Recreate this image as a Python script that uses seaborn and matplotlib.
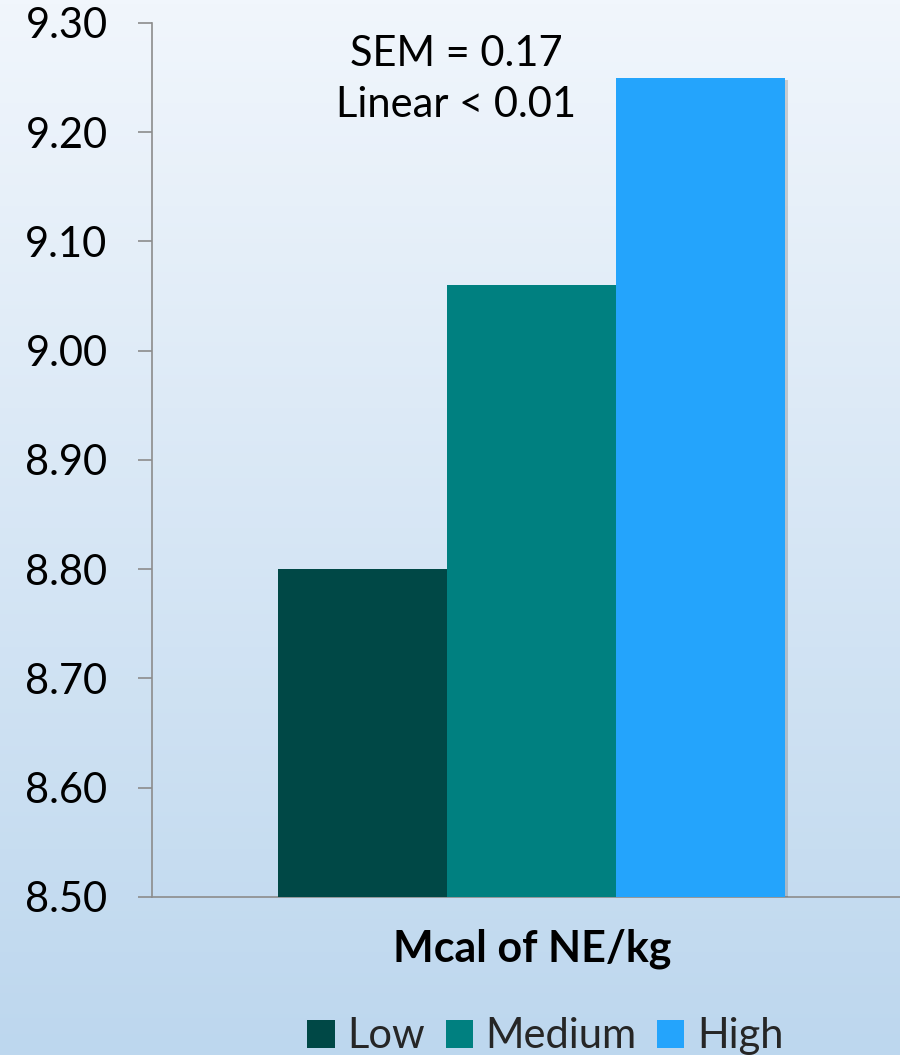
import numpy as np
import pandas as pd
import matplotlib
matplotlib.use("Agg")
import matplotlib.pyplot as plt
import matplotlib.patheffects as pe
from matplotlib.patches import Patch
from matplotlib.colors import LinearSegmentedColormap
import seaborn as sns

# Energy level groups and their response values
category = ["Mcal of NE/kg"]
levels = ["Low", "Medium", "High"]
values = [8.80, 9.06, 9.25]
colors = ["#004846", "#008080", "#24A4FC"]
y_ticks = [8.50, 8.60, 8.70, 8.80, 8.90, 9.00, 9.10, 9.20, 9.30]
annotation = "SEM = 0.17\nLinear < 0.01"

df = pd.DataFrame({"x": category * len(levels), "level": levels, "value": values})

sns.set_theme(style="ticks")
plt.rcParams["font.family"] = ["Lato", "DejaVu Sans"]

fig = plt.figure(figsize=(9, 10.55), dpi=100)

# vertical gradient backdrop
bg = fig.add_axes([0, 0, 1, 1], zorder=-10)
cmap = LinearSegmentedColormap.from_list("bgblue", ["#BDD7EE", "#F1F6FC"])
grad = np.linspace(0, 1, 256).reshape(-1, 1)
bg.imshow(grad, aspect="auto", cmap=cmap, origin="lower", extent=[0, 1, 0, 1])
bg.set_axis_off()

ax = fig.add_axes([0.1689, 0.1498, 0.8311, 0.8284])
ax.set_facecolor("none")

sns.barplot(data=df, x="x", y="value", hue="level", hue_order=levels,
            palette=colors, width=0.8, saturation=1, ax=ax, zorder=3, legend=False)

for bar in ax.patches:
    bar.set_edgecolor("none")
    bar.set_path_effects([pe.SimplePatchShadow(offset=(2, -2), shadow_rgbFace="#555555", alpha=0.25),
                          pe.Normal()])

ax.set_ylim(8.50, 9.30)
ax.set_xlim(-0.599, 0.581)
ax.set_yticks(y_ticks)
ax.set_yticklabels([f"{t:.2f}" for t in y_ticks], fontsize=30, color="black")
ax.tick_params(axis="y", direction="out", length=10, width=1.2, color="#8C8C8C", pad=22)
ax.tick_params(axis="x", length=0, pad=23)
for lab in ax.get_xticklabels():
    lab.set_fontsize(31)
    lab.set_fontweight("bold")
    lab.set_color("black")
ax.set_xlabel("")
ax.set_ylabel("")

for side in ["top", "right"]:
    ax.spines[side].set_visible(False)
for side in ["left", "bottom"]:
    ax.spines[side].set_color("#8C8C8C")
    ax.spines[side].set_linewidth(1.2)

ax.text(-0.119, 9.248, annotation, ha="center", va="center", fontsize=30,
        color="black", linespacing=1.42, zorder=5)

handles = [Patch(facecolor=c, edgecolor="none", label=l) for c, l in zip(colors, levels)]
fig.legend(handles=handles, loc="lower center", bbox_to_anchor=(0.606, -0.036), ncol=3,
           frameon=False, fontsize=30, handlelength=0.65, handleheight=0.65,
           handletextpad=0.3, columnspacing=0.5)

fig.savefig("out.png", dpi=100)
